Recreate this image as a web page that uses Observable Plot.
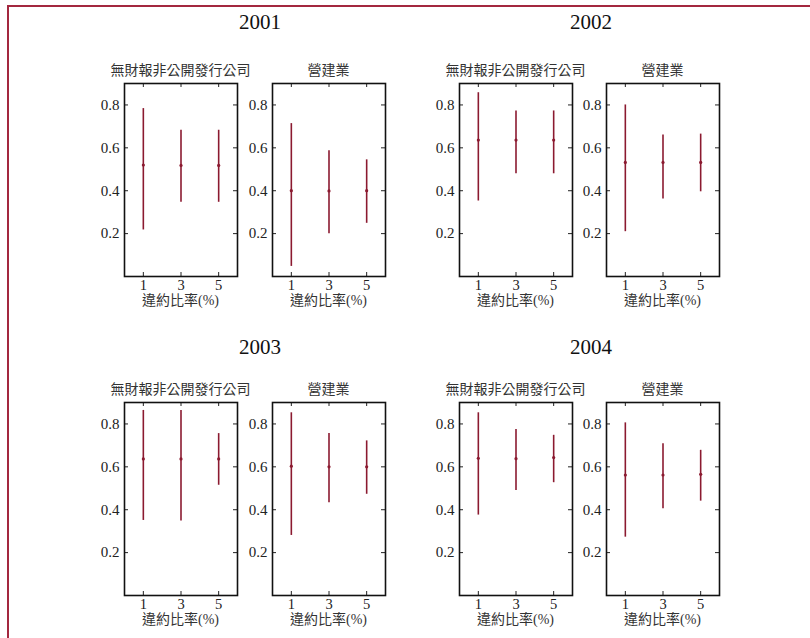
<!DOCTYPE html>
<html>
<head>
<meta charset="utf-8">
<script src="https://cdn.jsdelivr.net/npm/d3@7"></script>
<script src="https://cdn.jsdelivr.net/npm/@observablehq/plot@0.6"></script>
<style>
  html, body { margin: 0; padding: 0; background: #fff; }
  #root { position: relative; width: 810px; height: 638px; overflow: hidden; background: #fff; }
  .frame { position: absolute; left: 7px; top: 5px; width: 900px; height: 900px;
           border-top: 2px solid #a3283f; border-left: 2px solid #a3283f; }
  .year { position: absolute; font-family: "Liberation Serif", serif; font-size: 21px; color: #111;
          transform: translate(-50%, -50%); white-space: nowrap; line-height: 1; }
  .sub { position: absolute; font-family: "Noto Sans CJK TC", sans-serif; font-size: 14px; color: #333;
         transform: translate(-50%, -50%); white-space: nowrap; line-height: 1; }
  .xl { position: absolute; font-family: "Liberation Serif", "Noto Sans CJK TC", serif; font-size: 14px; color: #333;
        transform: translate(-50%, -50%); white-space: nowrap; line-height: 1; }
  .panel { position: absolute; }
</style>
</head>
<body>
<div id="root"><div class="frame"></div></div>
<script>
// ---- data ----
const years = ["2001", "2002", "2003", "2004"];
const groups = ["無財報非公開發行公司", "營建業"];
const xLabel = "違約比率(%)";
const defaultRates = [1, 3, 5];
const yTicks = [0.2, 0.4, 0.6, 0.8];

// mean, lower, upper per default rate (1,3,5) for each year / group
const mean2001A  = [0.520, 0.518, 0.518];
const lower2001A = [0.217, 0.346, 0.346];
const upper2001A = [0.783, 0.682, 0.682];
const mean2001B  = [0.400, 0.399, 0.400];
const lower2001B = [0.047, 0.199, 0.248];
const upper2001B = [0.713, 0.586, 0.544];

const mean2002A  = [0.636, 0.636, 0.636];
const lower2002A = [0.352, 0.479, 0.479];
const upper2002A = [0.857, 0.772, 0.772];
const mean2002B  = [0.532, 0.532, 0.532];
const lower2002B = [0.209, 0.361, 0.395];
const upper2002B = [0.800, 0.660, 0.664];

const mean2003A  = [0.637, 0.637, 0.637];
const lower2003A = [0.350, 0.347, 0.514];
const upper2003A = [0.863, 0.863, 0.755];
const mean2003B  = [0.603, 0.600, 0.600];
const lower2003B = [0.280, 0.433, 0.472];
const upper2003B = [0.852, 0.755, 0.721];

const mean2004A  = [0.640, 0.638, 0.643];
const lower2004A = [0.375, 0.490, 0.526];
const upper2004A = [0.852, 0.774, 0.747];
const mean2004B  = [0.562, 0.562, 0.565];
const lower2004B = [0.272, 0.405, 0.440];
const upper2004B = [0.805, 0.708, 0.677];

const series = {
  "2001": [[mean2001A, lower2001A, upper2001A], [mean2001B, lower2001B, upper2001B]],
  "2002": [[mean2002A, lower2002A, upper2002A], [mean2002B, lower2002B, upper2002B]],
  "2003": [[mean2003A, lower2003A, upper2003A], [mean2003B, lower2003B, upper2003B]],
  "2004": [[mean2004A, lower2004A, upper2004A], [mean2004B, lower2004B, upper2004B]]
};

// ---- layout ----
const root = document.getElementById("root");
const boxW = 113, boxH = 193;
const mL = 40, mR = 4, mT = 4, mB = 22;
const panelLefts = { "2001": [124, 272], "2002": [459, 606], "2003": [124, 272], "2004": [459, 606] };
const panelTops = { "2001": 83, "2002": 83, "2003": 402, "2004": 402 };
const yearX = { "2001": 260, "2002": 591, "2003": 260, "2004": 591 };
const yearY = { "2001": 22, "2002": 22, "2003": 347, "2004": 347 };
const color = "#8b1a30";

function addDiv(cls, text, x, y) {
  const d = document.createElement("div");
  d.className = cls; d.textContent = text;
  d.style.left = x + "px"; d.style.top = y + "px";
  root.appendChild(d);
}

years.forEach(yr => {
  const top = panelTops[yr];
  addDiv("year", yr, yearX[yr], yearY[yr]);
  groups.forEach((g, gi) => {
    const left = panelLefts[yr][gi];
    const [m, lo, hi] = series[yr][gi];
    const data = defaultRates.map((r, i) => ({ rate: r, mean: m[i], lo: lo[i], hi: hi[i] }));
    const chart = Plot.plot({
      width: mL + boxW + mR,
      height: mT + boxH + mB,
      marginLeft: mL, marginRight: mR, marginTop: mT, marginBottom: mB,
      style: { background: "transparent", fontFamily: "Liberation Serif, serif", fontSize: "14px", color: "#222", overflow: "visible" },
      x: { domain: [0, 6] },
      y: { domain: [0, 0.9] },
      marks: [
        Plot.axisX(defaultRates, { tickSize: 0, tickPadding: 3, label: null, fontSize: 14.5 }),
        Plot.axisY(yTicks, { tickSize: 0, tickPadding: 5, label: null, fontSize: 15, tickFormat: d3.format(".1f") }),
        // inward ticks on all four sides
        Plot.tickX(defaultRates, { x: d => d, insetTop: boxH - 4, stroke: "#222" }),
        Plot.tickX(defaultRates, { x: d => d, insetBottom: boxH - 4, stroke: "#222" }),
        Plot.tickY(yTicks, { y: d => d, insetRight: boxW - 4, stroke: "#222" }),
        Plot.tickY(yTicks, { y: d => d, insetLeft: boxW - 4, stroke: "#222" }),
        Plot.ruleX(data, { x: "rate", y1: "lo", y2: "hi", stroke: color, strokeWidth: 1.6 }),
        Plot.dot(data, { x: "rate", y: "mean", r: 1.6, fill: color, stroke: null }),
        Plot.frame({ stroke: "#111", strokeWidth: 1.6 })
      ]
    });
    const wrap = document.createElement("div");
    wrap.className = "panel";
    wrap.style.left = (left - mL) + "px";
    wrap.style.top = (top - mT) + "px";
    wrap.appendChild(chart);
    root.appendChild(wrap);
    addDiv("sub", g, left + boxW / 2, top - 14);
    addDiv("xl", xLabel, left + boxW / 2, top + boxH + 25);
  });
});
</script>
</body>
</html>
